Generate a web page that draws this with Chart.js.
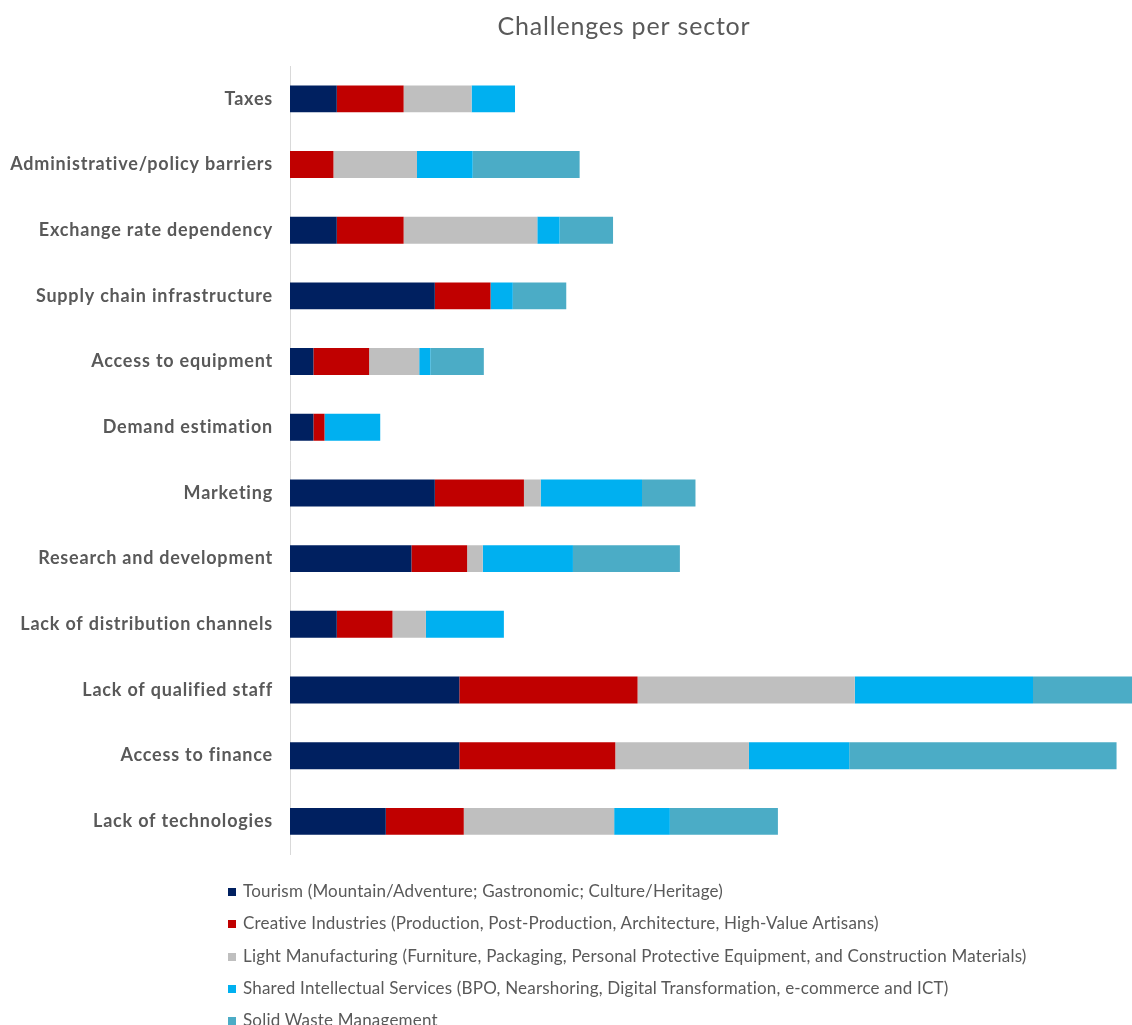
<!DOCTYPE html>
<html>
<head>
<meta charset="utf-8">
<title>Challenges per sector</title>
<script src="https://cdn.jsdelivr.net/npm/chart.js@4.4.1/dist/chart.umd.min.js"></script>
<style>
  html, body { margin: 0; padding: 0; background: #fff; overflow: hidden; }
  #wrap { position: relative; width: 1248px; height: 1025px; }
  #grafico { position: absolute; left: 0; top: 0; }
  #leyenda {
    position: absolute; left: 228px; top: 875px;
    margin: 0; padding: 0; list-style: none;
    font-family: Lato, "Open Sans", sans-serif; font-size: 17px; color: #595959;
    letter-spacing: 0.2px;
  }
  #leyenda li { height: 32.3px; line-height: 32px; white-space: nowrap; }
  #leyenda span {
    display: inline-block; width: 8px; height: 8px; margin-right: 7px;
    vertical-align: 1px;
  }
</style>
</head>
<body>
<div id="wrap">
  <canvas id="grafico" width="1248" height="882"></canvas>
  <ul id="leyenda"></ul>
</div>
<script>
// categories, top to bottom
const categorias = [
  "Taxes",
  "Administrative/policy barriers",
  "Exchange rate dependency",
  "Supply chain infrastructure",
  "Access to equipment",
  "Demand estimation",
  "Marketing",
  "Research and development",
  "Lack of distribution channels",
  "Lack of qualified staff",
  "Access to finance",
  "Lack of technologies"
];

const sectores = [
  "Tourism (Mountain/Adventure; Gastronomic; Culture/Heritage)",
  "Creative Industries (Production, Post-Production, Architecture, High-Value Artisans)",
  "Light Manufacturing (Furniture, Packaging, Personal Protective Equipment, and Construction Materials)",
  "Shared Intellectual Services (BPO, Nearshoring, Digital Transformation, e-commerce and ICT)",
  "Solid Waste Management"
];

// values (same order as categorias)
const turismo   = [4.2, 0,   4.2, 13.0, 2.1, 2.1, 13.0, 10.9, 4.2, 15.2, 15.2, 8.6];
const creativas = [6.0, 3.9, 6.0, 5.0,  5.0, 1.0, 8.0,  5.0,  5.0, 16.0, 14.0, 7.0];
const manufact  = [6.1, 7.5, 12.0, 0,   4.5, 0,   1.5,  1.4,  3.0, 19.5, 12.0, 13.5];
const servicios = [3.9, 5.0, 2.0, 2.0,  1.0, 5.0, 9.1,  8.1,  7.0, 16.0, 9.0,  5.0];
const residuos  = [0,   9.6, 4.8, 4.8,  4.8, 0,   4.8,  9.6,  0,   9.6,  24.0, 9.7];

const colores = ["#002060", "#C00000", "#BFBFBF", "#00B0F0", "#4BACC6"];
const series = [turismo, creativas, manufact, servicios, residuos];

const gris = "#595959";

// a bit of letter spacing so Lato is closer to the wider original font
const espaciado = {
  id: "espaciado",
  beforeDraw: chart => { chart.ctx.letterSpacing = "0.8px"; }
};

const ctx = document.getElementById("grafico").getContext("2d");

const grafico = new Chart(ctx, {
  type: "bar",
  data: {
    labels: categorias,
    datasets: series.map((valores, i) => ({
      label: sectores[i],
      data: valores,
      backgroundColor: colores[i],
      borderWidth: 0,
      barPercentage: 0.41,
      categoryPercentage: 1
    }))
  },
  options: {
    indexAxis: "y",
    responsive: false,
    animation: false,
    layout: { padding: { left: 0, right: 0, top: 0, bottom: 15 } },
    plugins: {
      legend: { display: false },
      tooltip: { enabled: false },
      title: {
        display: true,
        text: "Challenges per sector",
        color: gris,
        font: { family: "Lato", size: 25, weight: "normal" },
        padding: { top: 12, bottom: 24 }
      }
    },
    scales: {
      x: {
        stacked: true,
        display: false,
        min: 0,
        max: 86
      },
      y: {
        stacked: true,
        grid: { display: false, drawTicks: false },
        border: { display: true, color: "#d9d9d9", width: 1 },
        ticks: {
          color: gris,
          padding: 17,
          font: { family: "Lato", size: 18, weight: "bold" }
        },
        afterFit: scale => { scale.width = 290; }
      }
    }
  },
  plugins: [espaciado]
});

// HTML legend built from the datasets
const leyenda = document.getElementById("leyenda");
grafico.data.datasets.forEach(ds => {
  const li = document.createElement("li");
  const caja = document.createElement("span");
  caja.style.background = ds.backgroundColor;
  li.appendChild(caja);
  li.appendChild(document.createTextNode(ds.label));
  leyenda.appendChild(li);
});
</script>
</body>
</html>
